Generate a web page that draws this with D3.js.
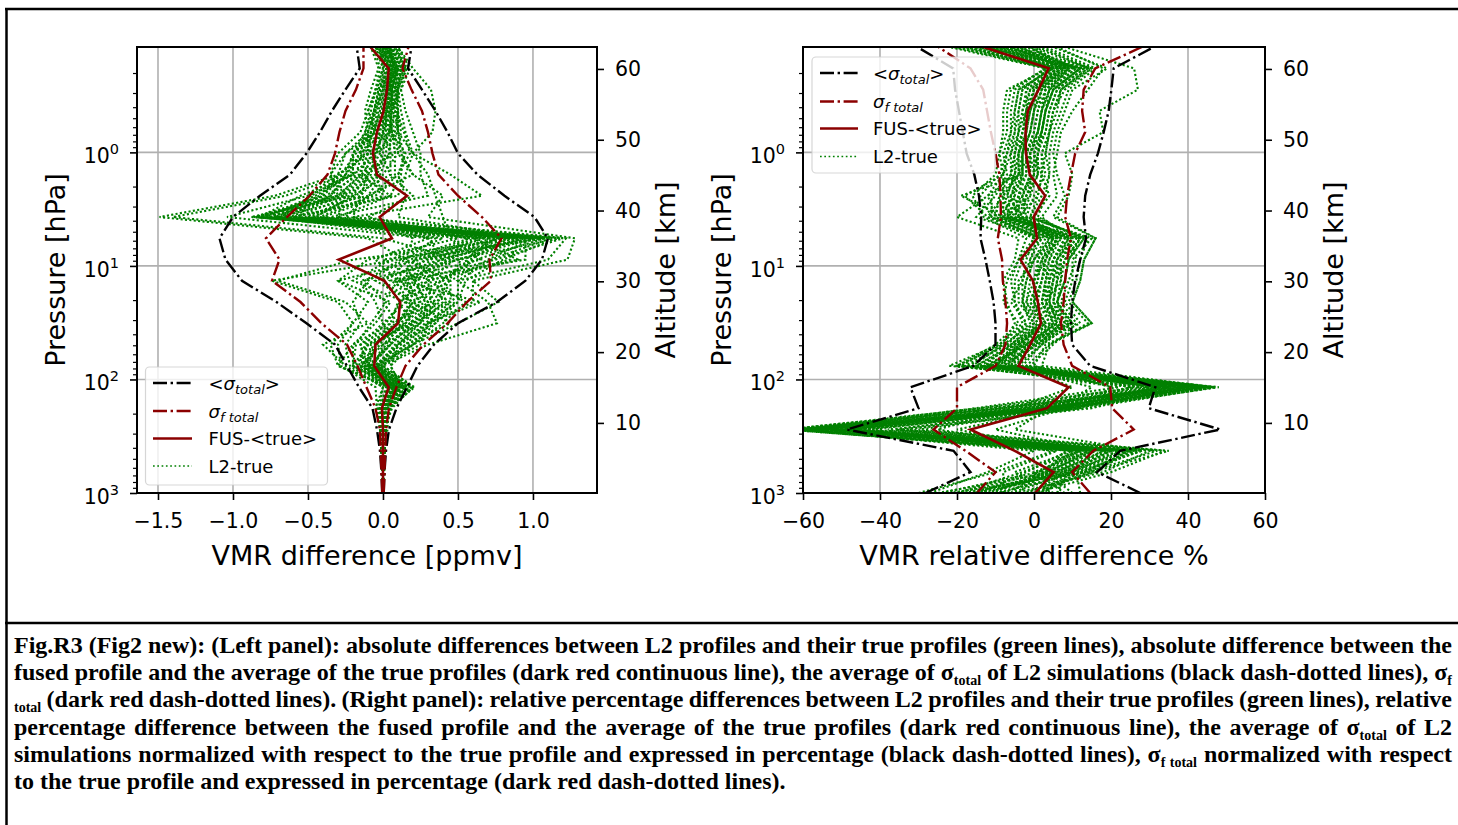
<!DOCTYPE html>
<html>
<head>
<meta charset="utf-8">
<script src="https://cdn.jsdelivr.net/npm/d3@7"></script>
<style>
  body { margin: 0; background: #fff; }
  svg { display: block; }
</style>
</head>
<body>
<svg id="fig" width="1458" height="825"></svg>
<script>
// ---------------------------------------------------------------------------
// Data: retrieval levels (ordered from the ground upward, 0 .. 63 km, 3 km step)
// ---------------------------------------------------------------------------
const levelPressure = [1000, 655, 425, 276, 179, 117, 75.9, 49.3, 32.0, 20.8, 13.5,
                       8.80, 5.71, 3.71, 2.41, 1.57, 1.02, 0.663, 0.431, 0.280, 0.182, 0.118];

const altitudeTicks = [10, 20, 30, 40, 50, 60];
const pressureMajorTicks = [1, 10, 100, 1000];
const pressureMinorTicks = [0.2, 0.3, 0.4, 0.5, 0.6, 0.7, 0.8, 0.9,
                            2, 3, 4, 5, 6, 7, 8, 9,
                            20, 30, 40, 50, 60, 70, 80, 90,
                            200, 300, 400, 500, 600, 700, 800, 900];
const absTicks = [-1.5, -1.0, -0.5, 0.0, 0.5, 1.0];
const relTicks = [-60, -40, -20, 0, 20, 40, 60];

// Left panel: absolute differences [ppmv]
const absSigmaTotalLow  = [-0.005, -0.01, -0.02, -0.04, -0.07, -0.16, -0.24, -0.32, -0.51, -0.71, -0.94,
                           -1.05, -1.09, -1.00, -0.82, -0.62, -0.51, -0.42, -0.34, -0.25, -0.155, -0.175];
const absSigmaTotalHigh = [0.005, 0.01, 0.02, 0.04, 0.09, 0.16, 0.23, 0.34, 0.50, 0.76, 0.95,
                           1.06, 1.10, 1.01, 0.81, 0.63, 0.50, 0.43, 0.35, 0.26, 0.167, 0.19];
const absSigmaFusLow    = [-0.005, -0.01, -0.015, -0.02, -0.05, -0.11, -0.17, -0.24, -0.41, -0.55, -0.74,
                           -0.69, -0.78, -0.64, -0.49, -0.37, -0.32, -0.29, -0.25, -0.18, -0.13, -0.13];
const absSigmaFusHigh   = [0.005, 0.01, 0.015, 0.02, 0.04, 0.09, 0.15, 0.27, 0.43, 0.56, 0.72,
                           0.71, 0.79, 0.66, 0.50, 0.37, 0.33, 0.30, 0.26, 0.19, 0.13, 0.17];
const absFusMinusTrue   = [0, 0, 0, 0, -0.007, 0.038, -0.058, -0.05, 0.10, 0.115, 0.01,
                           -0.295, 0.06, -0.022, 0.16, -0.04, -0.067, -0.04, 0.004, 0.027, 0.038, -0.084];
const absL2MinusTrue = [
  [0, 0, 0.01, 0.02, 0.03, 0.12, -0.05, 0.1, 0.3, 0.45, 0.2, 0.15, -0.1, -1.49, -0.72, -0.3, -0.1, 0.05, 0.08, 0.05, 0.1, 0.02],
  [0, 0, -0.01, 0.01, 0.05, 0.18, -0.1, 0.05, 0.2, 0.35, 0.1, 0.5, 0.0, -1.4, -0.65, -0.25, -0.15, 0.0, 0.05, 0.02, 0.08, -0.02],
  [0, 0.01, 0.0, -0.02, 0.02, 0.1, -0.2, -0.1, 0.1, 0.2, -0.05, 0.4, 0.3, -1.04, -0.5, -0.2, -0.05, 0.1, 0.1, 0.05, 0.05, 0.0],
  [0, 0, 0.01, 0.02, 0.04, 0.15, -0.05, 0.2, 0.5, 0.77, 0.6, 1.23, 1.28, 0.3, 0.4, 0.2, 0.1, 0.12, 0.1, 0.08, 0.12, 0.05],
  [0, 0, 0.0, 0.01, 0.06, 0.2, 0.0, 0.3, 0.76, 0.7, 0.5, 1.1, 1.22, -0.2, 0.66, 0.45, 0.2, 0.33, 0.35, 0.32, 0.2, 0.1],
  [0, 0, -0.01, -0.02, -0.03, 0.05, -0.3, -0.35, -0.2, -0.3, -0.74, 0.1, 0.8, -0.85, -0.3, -0.35, -0.3, -0.15, -0.1, -0.05, 0.0, -0.05],
  [0, 0, 0, -0.01, -0.05, 0.0, -0.25, -0.4, -0.1, -0.25, -0.7, -0.2, 0.9, -0.8, -0.4, -0.3, -0.25, -0.1, -0.12, -0.08, -0.03, -0.08],
  [0, 0, 0, 0.01, 0.0, 0.1, -0.1, -0.05, 0.15, 0.3, 0.2, 0.35, 0.95, -0.88, -0.2, -0.1, 0.05, 0.0, 0.03, 0.05, 0.08, 0.03],
  [0, 0, 0.01, 0.0, 0.02, 0.05, -0.15, 0.0, 0.25, 0.4, 0.35, 0.2, 1.05, -0.8, -0.45, -0.2, -0.2, -0.05, -0.03, 0.0, 0.05, -0.03],
  [0, 0, 0, 0.02, 0.03, 0.08, -0.2, -0.2, 0.05, 0.1, 0.4, 0.6, 0.7, -0.7, -0.1, 0.0, 0.1, 0.08, 0.1, 0.1, 0.15, 0.08],
  [0, 0, -0.01, -0.01, -0.02, 0.02, -0.05, 0.1, 0.35, 0.5, 0.55, 0.8, 1.15, -0.75, -0.3, -0.15, -0.1, -0.08, 0.0, 0.03, 0.06, 0.05],
  [0, 0, 0, 0.0, 0.01, 0.12, 0.05, 0.2, 0.4, 0.55, 0.3, 0.9, 0.6, -0.6, 0.1, 0.15, 0.2, 0.15, 0.12, 0.1, 0.12, 0.06],
  [0, 0, 0, -0.02, -0.04, -0.05, -0.28, -0.3, -0.2, -0.1, -0.3, -0.1, 0.5, -0.65, -0.35, -0.25, -0.2, -0.12, -0.08, -0.05, -0.02, -0.06],
  [0, 0, 0.01, 0.03, 0.04, 0.21, 0.0, 0.15, 0.45, 0.2, 0.0, 0.3, 0.85, -0.5, -0.05, 0.1, 0.15, 0.05, 0.05, 0.12, 0.18, 0.1],
  [0, 0, -0.01, 0.0, -0.01, 0.08, -0.12, -0.15, 0.0, 0.15, -0.2, 0.05, 0.4, -0.55, -0.5, -0.3, -0.1, -0.1, -0.05, -0.02, 0.02, -0.04],
  [0, 0, 0, 0.01, 0.02, 0.15, -0.08, 0.05, 0.2, 0.45, 0.45, 0.7, 1.0, -0.4, 0.0, -0.05, 0.0, 0.02, 0.02, 0.08, 0.1, 0.04],
  [0, 0, 0, -0.01, 0.0, 0.03, -0.18, -0.1, 0.1, 0.0, 0.1, -0.05, 0.3, -0.3, -0.25, -0.35, -0.25, -0.05, -0.1, -0.04, 0.0, -0.02],
  [0, 0, 0.01, 0.02, 0.05, 0.17, -0.02, 0.25, 0.3, 0.6, 0.6, 0.55, 0.75, -0.35, 0.3, 0.25, 0.25, 0.2, 0.15, 0.12, 0.15, 0.08],
  [0, 0, 0, 0.0, -0.03, 0.0, -0.22, -0.25, -0.15, -0.2, -0.1, 0.15, 0.2, -0.2, -0.15, -0.1, -0.15, -0.12, -0.06, -0.03, 0.04, 0.0],
  [0, 0, 0.01, 0.01, 0.03, 0.1, -0.06, 0.0, 0.15, 0.25, 0.15, 0.45, 0.55, -0.1, 0.2, 0.05, 0.05, 0.04, 0.06, 0.06, 0.1, 0.02],
  [0, 0, 0, 0.02, 0.01, 0.06, -0.12, -0.05, 0.05, 0.35, 0.25, 0.0, 1.1, -0.7, -0.25, -0.05, -0.05, 0.0, 0.02, 0.04, 0.07, 0.05],
  [0, 0, -0.01, -0.02, 0.0, 0.04, -0.3, -0.2, -0.05, 0.05, -0.3, 0.25, 0.65, -0.82, -0.55, -0.2, -0.2, -0.08, -0.05, 0.0, 0.03, -0.01],
  [0, 0, 0, 0.01, 0.02, 0.13, 0.05, 0.1, 0.25, 0.3, 0.05, 0.65, 0.45, 0.4, 0.35, 0.3, 0.2, 0.1, 0.08, 0.09, 0.14, 0.07],
  [0, 0, 0.01, 0.0, 0.01, 0.09, -0.15, -0.1, 0.2, 0.1, 0.3, 0.85, 0.9, -0.45, -0.2, 0.05, -0.02, -0.03, 0.01, 0.02, 0.09, 0.01],
  [0, 0, 0, -0.01, -0.01, 0.07, -0.08, 0.05, 0.0, -0.05, -0.15, 0.5, 1.0, -0.6, 0.05, -0.15, 0.08, 0.06, 0.04, 0.07, 0.11, 0.03],
  [0, 0, 0, 0.01, 0.03, 0.16, -0.03, 0.2, 0.35, 0.15, 0.2, 0.75, 1.2, -0.25, -0.1, 0.2, 0.12, 0.1, 0.08, 0.04, 0.06, 0.0],
  [0, 0, 0.01, 0.0, 0.0, 0.11, -0.1, -0.15, 0.1, 0.2, 0.45, 0.15, 0.35, -0.75, -0.4, -0.25, -0.12, -0.06, -0.04, -0.01, 0.05, -0.05],
  [0, 0, -0.01, 0.01, 0.04, 0.19, -0.04, 0.15, 0.3, 0.65, 0.1, 0.95, 0.95, 0.1, 0.15, 0.1, 0.18, 0.14, 0.09, 0.1, 0.16, 0.09],
  [0, 0, 0, 0.01, 0.01, 0.09, -0.07, 0.02, 0.12, 0.22, 0.12, 0.28, 0.78, -0.62, -0.28, -0.12, -0.08, -0.02, 0.02, 0.03, 0.07, 0.02],
  [0, 0, 0.01, 0.01, 0.02, 0.14, -0.11, -0.08, 0.18, 0.38, 0.28, 0.42, 0.88, -0.72, -0.35, -0.18, -0.14, -0.06, -0.02, 0.01, 0.06, 0.0],
  [0, 0, 0, 0.0, 0.03, 0.11, -0.04, 0.08, 0.22, 0.42, 0.38, 0.62, 1.08, -0.52, -0.15, -0.02, 0.04, 0.06, 0.05, 0.06, 0.09, 0.04],
  [0, 0, -0.01, -0.01, -0.02, 0.04, -0.16, -0.12, 0.02, 0.12, 0.0, 0.18, 0.62, -0.78, -0.42, -0.28, -0.18, -0.1, -0.06, -0.03, 0.01, -0.03],
  [0, 0, 0, 0.01, 0.02, 0.13, -0.06, 0.12, 0.28, 0.5, 0.5, 0.72, 1.12, -0.42, -0.08, 0.08, 0.08, 0.07, 0.07, 0.08, 0.13, 0.06],
  [0, 0, 0.01, 0.0, 0.0, 0.06, -0.13, -0.02, 0.08, 0.28, 0.22, 0.38, 0.98, -0.84, -0.3, -0.14, -0.04, 0.0, 0.0, 0.02, 0.05, -0.01],
  [0, 0, 0, 0.02, 0.03, 0.16, -0.01, 0.18, 0.32, 0.48, 0.4, 0.58, 0.82, -0.3, 0.05, 0.12, 0.14, 0.1, 0.1, 0.09, 0.13, 0.05],
  [0, 0, 0, -0.01, -0.02, 0.03, -0.2, -0.18, -0.08, 0.02, -0.12, 0.12, 0.58, -0.68, -0.48, -0.22, -0.16, -0.08, -0.06, -0.02, 0.03, -0.02],
  [0, 0, 0.01, 0.01, 0.01, 0.1, -0.09, 0.04, 0.18, 0.32, 0.3, 0.48, 1.18, -0.58, -0.22, -0.08, -0.06, 0.01, 0.03, 0.04, 0.08, 0.03],
  [0, 0, 0, 0.0, 0.02, 0.08, -0.14, -0.06, 0.14, 0.24, 0.16, 0.32, 0.72, -0.46, -0.18, -0.04, 0.02, 0.03, 0.04, 0.05, 0.09, 0.01],
  [0, 0, -0.01, 0.01, 0.03, 0.12, -0.03, 0.1, 0.24, 0.36, 0.44, 0.52, 0.92, -0.76, -0.26, -0.1, -0.02, 0.04, 0.06, 0.06, 0.1, 0.04],
  [0, 0, 0, 0.01, 0.02, 0.07, -0.1, -0.04, 0.1, 0.18, 0.08, 0.22, 0.68, -0.86, -0.38, -0.16, -0.1, -0.04, -0.01, 0.02, 0.06, 0.01]
];

// Right panel: relative differences [%]
const relSigmaTotalLow  = [-28.2, -16.5, -20.9, -48.6, -30.0, -32.1, -15.7, -10.0, -10.0, -10.5, -11.5,
                           -12.6, -13.9, -13.7, -14.3, -15.5, -17.5, -18.5, -19.5, -20.5, -21.0, -30.3];
const relSigmaTotalHigh = [27.6, 16.4, 22.4, 48.4, 29.8, 31.5, 14.6, 9.9, 9.6, 9.9, 10.7,
                           12.0, 13.5, 12.9, 13.3, 14.6, 16.6, 18.1, 19.4, 20.1, 20.7, 31.1];
const relSigmaFusLow    = [-14.8, -10.0, -17.8, -26.1, -20.0, -20.0, -10.0, -7.4, -7.0, -7.4, -8.1,
                           -8.3, -9.4, -8.6, -8.7, -9.0, -10.0, -11.2, -12.2, -13.2, -16.5, -24.8];
const relSigmaFusHigh   = [14.6, 9.9, 15.4, 25.9, 20.3, 19.8, 9.9, 7.7, 7.0, 7.7, 8.1,
                           8.6, 9.6, 8.1, 8.6, 9.6, 10.7, 13.3, 12.5, 12.9, 15.9, 28.0];
const relFusMinusTrue   = [0.3, 5.1, -5.0, -16.5, 3.4, 9.0, -4.0, -1.0, 1.8, 1.0, -0.3,
                           -3.5, 0.8, -0.1, 2.9, -1.1, -2.1, -2.2, -1.6, 1.2, 3.8, -13.1];
const relL2MinusTrue = [
  [-25, 5, 20, -60, 0, 40, -15, -5, 5, 2, 3, 5, 8, -10, -12, -5, -4, -3, -2, 0, 8, -15],
  [-10, 12, 28, -50, 5, 45, -10, -3, 10, 5, 6, 8, 12, -5, -3, 0, 0, 2, 3, 5, 12, -8],
  [5, -5, 10, -65, -10, 30, -20, -8, 0, -3, -2, 0, 3, -12, -18, -8, -6, -5, -4, -3, 4, -20],
  [-18, 8, 25, -45, 10, 48, -5, 0, 12, 8, 10, 10, 15, -2, 0, 3, 2, 4, 5, 8, 15, -5],
  [0, 15, 35, -30, 12, 20, 0, 3, 15, 10, 12, 13, 16, 5, 8, 6, 5, 6, 8, 10, 19, 5],
  [-30, -10, 5, -62, -8, 35, -22, -9, -3, -5, -5, -3, 2, -15, -10, -7, -8, -6, -6, -5, 3, -22],
  [-15, 10, 22, -55, 3, 42, -12, -2, 6, 4, 5, 6, 10, -8, -6, -2, -2, 0, 1, 3, 10, -10],
  [8, 0, 15, -10, 8, 25, -8, -6, 2, 0, 0, 3, 5, -4, -4, -3, -3, -1, 0, 2, 7, -3],
  [-5, 18, 30, -35, 15, 38, -3, 2, 8, 6, 8, 9, 13, 0, 4, 2, 3, 4, 6, 7, 14, 2],
  [-20, -3, 12, -58, -12, 44, -18, -7, -2, -6, -3, -2, 0, -11, -14, -9, -7, -6, -5, -4, 5, -18],
  [10, 3, 8, -20, 6, 15, -6, -4, 4, 1, 2, 4, 6, -6, -8, -4, -1, 1, 2, 4, 9, 0],
  [-12, 7, 18, -48, 0, 33, -14, -5, 3, -1, 1, 1, 4, -9, -5, -6, -5, -3, -1, 1, 6, -12],
  [2, 12, 26, -52, 9, 46, -2, 4, 14, 9, 11, 12, 14, -1, 2, 4, 4, 5, 7, 9, 16, 3],
  [-8, -8, 6, -64, -14, 28, -20, -10, -4, -8, -7, -4, -2, -13, -16, -10, -9, -7, -7, -6, 3, -16],
  [-22, 14, 32, -42, 4, 36, -9, 1, 9, 3, 7, 7, 11, -7, -2, 1, 1, 3, 4, 6, 13, -6],
  [4, 2, 10, -25, -5, 10, -4, -2, 6, 2, 4, 2, 7, -3, -1, -1, -2, 0, 1, 2, 8, -1],
  [-16, 6, 16, -56, 2, 41, -11, -3, 1, -2, -1, -1, 1, -10, -9, -4, -4, -2, -3, -1, 6, -13],
  [-3, 16, 24, -38, 11, 30, -1, 5, 11, 7, 9, 11, 9, 2, 6, 5, 6, 7, 10, 14, 18, 6],
  [-27, -12, 0, -60, -15, 22, -16, -8, -5, -7, -8, -5, -4, -20, -12, -8, -9, -8, -8, -7, 4, -21],
  [6, 9, 20, -46, 7, 43, -7, -1, 7, 5, 6, 6, 10, -4, 1, 2, 0, 2, 3, 4, 11, -2],
  [-12, 4, 14, -53, -3, 39, -13, -6, 0, -4, -4, 0, 5, -9, -7, -5, -5, -4, -2, -2, 5, -14],
  [0, 20, 34, -33, 13, 47, 2, 4, 15, 10, 12, 13, 16, 6, 9, 10, 8, 18, 17, 27, 26, 8],
  [-6, 1, 12, -62, -6, 37, -17, -7, -1, -3, -3, -1, 2, -11, -11, -6, -6, -4, -4, -3, 4, -17],
  [12, 11, 28, -5, 4, 34, -6, 0, 5, 3, 3, 5, 8, -5, -4, 0, -1, 1, 2, 3, 9, -4],
  [-20, 3, 16, -50, 1, 46, -10, -4, 2, 1, 0, 2, 6, -8, -19, -3, -3, -2, -1, 0, 7, -11],
  [-2, 13, 25, -48, 10, 40, -4, 2, 10, 6, 8, 9, 12, 1, 3, 4, 3, 4, 5, 7, 15, 1],
  [-14, -2, 9, -59, -9, 26, -19, -9, -2, -5, -6, -4, 0, -12, -8, -8, -7, -5, -5, -4, 5, -19],
  [3, 7, 22, -36, 7, 32, -8, 1, 7, 3, 4, 5, 9, -3, -2, 1, 1, 2, 3, 5, 12, -7],
  [-8, 6, 18, -54, 3, 38, -9, -3, 4, 2, 3, 4, 7, -6, -5, -3, -3, -1, 0, 2, 9, -9],
  [-14, 9, 20, -57, 6, 42, -11, -2, 6, 4, 4, 6, 9, -7, -4, -2, -2, 1, 2, 4, 11, -11],
  [2, 4, 14, -49, -2, 35, -7, -4, 3, 0, 2, 3, 6, -4, -6, -4, -3, -2, -1, 1, 8, -6],
  [-18, 11, 24, -61, 8, 44, -13, -1, 8, 5, 6, 7, 11, -8, -3, -1, -1, 2, 3, 5, 12, -13],
  [-4, 2, 12, -52, -4, 31, -5, -5, 2, -1, 1, 2, 5, -3, -7, -5, -4, -3, -2, 0, 7, -4],
  [-10, 13, 26, -63, 9, 45, -10, 0, 9, 6, 7, 8, 12, -6, -1, 1, 0, 3, 4, 6, 13, -9],
  [6, 8, 19, -44, 5, 40, -6, -2, 5, 3, 5, 5, 9, -2, -3, -1, -1, 1, 2, 3, 10, -1],
  [-24, 1, 11, -58, -6, 36, -15, -6, 1, -3, -2, 0, 4, -10, -9, -6, -5, -4, -3, -2, 6, -16],
  [-6, 10, 23, -56, 6, 43, -8, 1, 7, 4, 5, 7, 10, -4, -2, 0, 1, 2, 3, 5, 12, -7],
  [-16, 5, 15, -60, 0, 39, -12, -4, 3, 0, 2, 3, 6, -7, -6, -3, -3, -1, 0, 1, 9, -12],
  [1, 14, 27, -47, 10, 47, -5, 2, 10, 6, 8, 9, 13, -1, 1, 2, 2, 4, 5, 7, 14, 0],
  [-11, 3, 13, -51, -1, 33, -10, -5, 2, -2, 0, 1, 5, -8, -8, -4, -4, -2, -2, -1, 7, -10]
];

const captionLines = [
  "Fig.R3 (Fig2 new): (Left panel): absolute differences between L2 profiles and their true profiles (green lines), absolute difference between the",
  "fused profile and the average of the true profiles (dark red continuous line), the average of σ_{total} of L2 simulations (black dash-dotted lines), σ_{f}",
  "_{total} (dark red dash-dotted lines). (Right panel): relative percentage differences between L2 profiles and their true profiles (green lines), relative",
  "percentage difference between the fused profile and the average of the true profiles (dark red continuous line), the average of σ_{total} of L2",
  "simulations normalized with respect to the true profile and expressed in percentage (black dash-dotted lines), σ_{f total} normalized with respect",
  "to the true profile and expressed in percentage (dark red dash-dotted lines)."
];

// ---------------------------------------------------------------------------
// Drawing
// ---------------------------------------------------------------------------
const FONT = "'DejaVu Sans', sans-serif";
const DARKRED = "#8b0000";
const GREEN = "#008000";
const TOP = 47, BOTTOM = 493;

const fig = d3.select("#fig");
fig.append("rect").attr("width", 1458).attr("height", 825).attr("fill", "#fff");

// page frame
fig.append("line").attr("x1", 5).attr("x2", 1458).attr("y1", 9).attr("y2", 9)
  .attr("stroke", "#000").attr("stroke-width", 2.5);
fig.append("line").attr("x1", 6.5).attr("x2", 6.5).attr("y1", 8).attr("y2", 825)
  .attr("stroke", "#000").attr("stroke-width", 2.5);
fig.append("line").attr("x1", 5).attr("x2", 1458).attr("y1", 623).attr("y2", 623)
  .attr("stroke", "#000").attr("stroke-width", 2.5);

function styleAxis(sel) {
  sel.attr("font-family", FONT).attr("font-size", 20.5);
  sel.select(".domain").remove();
  sel.selectAll(".tick line").attr("stroke", "#000").attr("stroke-width", 1.6);
  sel.selectAll(".tick text").attr("fill", "#000");
}

function addLegend(g, box, rows) {
  g.append("rect")
    .attr("x", box.x).attr("y", box.y).attr("width", box.w).attr("height", box.h)
    .attr("rx", 4).attr("fill", "#fff").attr("fill-opacity", 0.8)
    .attr("stroke", "#cccccc").attr("stroke-opacity", 0.8).attr("stroke-width", 1.2);
  rows.forEach((r, i) => {
    const yy = box.rowY[i];
    g.append("line").attr("x1", box.hx0).attr("x2", box.hx1).attr("y1", yy).attr("y2", yy)
      .attr("stroke", r.color).attr("stroke-width", r.width)
      .attr("stroke-dasharray", r.dash || null);
    const t = g.append("text").attr("x", box.tx).attr("y", yy + 6.5)
      .attr("font-family", FONT).attr("font-size", 18).attr("fill", "#000");
    r.label(t);
  });
}

function labelSigmaTotal(t) {
  t.append("tspan").text("<");
  t.append("tspan").attr("font-style", "italic").text("σ");
  t.append("tspan").attr("font-style", "italic").attr("font-size", 13).attr("dy", 4).text("total");
  t.append("tspan").attr("dy", -4).text(">");
}
function labelSigmaFus(t) {
  t.append("tspan").attr("font-style", "italic").text("σ");
  t.append("tspan").attr("font-style", "italic").attr("font-size", 13).attr("dy", 4).text("f total");
}

function drawPanel(p) {
  const g = fig.append("g");
  const x = d3.scaleLinear().domain(p.xDomain).range([p.x0, p.x1]);
  const y = d3.scaleLog().domain([1000, 0.118]).range([BOTTOM, TOP]);
  const yAlt = d3.scaleLinear().domain([0.1, 63.1]).range([BOTTOM, TOP]);

  const clipId = "clip-" + p.id;
  g.append("clipPath").attr("id", clipId).append("rect")
    .attr("x", p.x0).attr("y", TOP).attr("width", p.x1 - p.x0).attr("height", BOTTOM - TOP);

  // grid
  const grid = g.append("g").attr("stroke", "#b0b0b0").attr("stroke-width", 1.6);
  grid.selectAll("line.v").data(p.xTicks).join("line").attr("class", "v")
    .attr("x1", d => x(d)).attr("x2", d => x(d)).attr("y1", TOP).attr("y2", BOTTOM);
  grid.selectAll("line.h").data(pressureMajorTicks.filter(d => d < 1000)).join("line").attr("class", "h")
    .attr("x1", p.x0).attr("x2", p.x1).attr("y1", d => y(d)).attr("y2", d => y(d));

  const plot = g.append("g").attr("clip-path", `url(#${clipId})`);
  const line = d3.line().x(d => x(d[0])).y(d => y(d[1]));
  const pts = arr => arr.map((v, i) => [v, levelPressure[i]]);

  // individual L2 - true profiles
  plot.selectAll("path.l2").data(p.l2).join("path").attr("class", "l2")
    .attr("d", d => line(pts(d))).attr("fill", "none")
    .attr("stroke", GREEN).attr("stroke-width", 2.1).attr("stroke-dasharray", "2.1,2.3");

  // sigma envelopes
  const dashDot = "14,3.6,2.4,3.6";
  [p.sigTotLow, p.sigTotHigh].forEach(arr => {
    plot.append("path").attr("d", line(pts(arr))).attr("fill", "none")
      .attr("stroke", "#000").attr("stroke-width", 2.4).attr("stroke-dasharray", dashDot);
  });
  [p.sigFusLow, p.sigFusHigh].forEach(arr => {
    plot.append("path").attr("d", line(pts(arr))).attr("fill", "none")
      .attr("stroke", DARKRED).attr("stroke-width", 2.4).attr("stroke-dasharray", dashDot);
  });
  // fused minus mean truth
  plot.append("path").attr("d", line(pts(p.fus))).attr("fill", "none")
    .attr("stroke", DARKRED).attr("stroke-width", 2.6);

  // legend
  addLegend(g, p.legend, [
    { color: "#000", width: 2.4, dash: dashDot, label: labelSigmaTotal },
    { color: DARKRED, width: 2.4, dash: dashDot, label: labelSigmaFus },
    { color: DARKRED, width: 2.6, label: t => t.text("FUS-<true>") },
    { color: GREEN, width: 1.7, dash: "1.7,2.6", label: t => t.text("L2-true") }
  ]);

  // frame
  g.append("rect").attr("x", p.x0).attr("y", TOP).attr("width", p.x1 - p.x0).attr("height", BOTTOM - TOP)
    .attr("fill", "none").attr("stroke", "#000").attr("stroke-width", 2);

  // x axis
  const xAxis = g.append("g").attr("transform", `translate(0,${BOTTOM})`)
    .call(d3.axisBottom(x).tickValues(p.xTicks).tickSize(7).tickSizeOuter(0).tickPadding(13)
      .tickFormat(p.xFormat));
  styleAxis(xAxis);

  // pressure axis (log): minor then major ticks
  const yMinor = g.append("g").attr("transform", `translate(${p.x0},0)`)
    .call(d3.axisLeft(y).tickValues(pressureMinorTicks).tickSize(4).tickSizeOuter(0).tickFormat(""));
  styleAxis(yMinor);
  yMinor.selectAll(".tick line").attr("stroke-width", 1.2);
  const yMajor = g.append("g").attr("transform", `translate(${p.x0},0)`)
    .call(d3.axisLeft(y).tickValues(pressureMajorTicks).tickSize(7).tickSizeOuter(0).tickPadding(11)
      .tickFormat(() => ""));
  styleAxis(yMajor);
  yMajor.selectAll(".tick text").attr("dy", "0.5em").each(function (d) {
    const t = d3.select(this);
    t.append("tspan").text("10");
    t.append("tspan").attr("font-size", 14.5).attr("dy", -9).text(Math.round(Math.log10(d)));
  });

  // altitude axis
  const yRight = g.append("g").attr("transform", `translate(${p.x1},0)`)
    .call(d3.axisRight(yAlt).tickValues(altitudeTicks).tickSize(7).tickSizeOuter(0).tickPadding(11)
      .tickFormat(d3.format("d")));
  styleAxis(yRight);

  // axis titles
  const cy = (TOP + BOTTOM) / 2;
  g.append("text").attr("transform", `translate(${p.x0 - 82},${cy}) rotate(-90)`)
    .attr("text-anchor", "middle").attr("dominant-baseline", "central")
    .attr("font-family", FONT).attr("font-size", 27).text("Pressure [hPa]");
  g.append("text").attr("transform", `translate(${p.x1 + 68},${cy}) rotate(-90)`)
    .attr("text-anchor", "middle").attr("dominant-baseline", "central")
    .attr("font-family", FONT).attr("font-size", 27).text("Altitude [km]");
  g.append("text").attr("x", (p.x0 + p.x1) / 2).attr("y", 555)
    .attr("text-anchor", "middle").attr("dominant-baseline", "central")
    .attr("font-family", FONT).attr("font-size", 27).text(p.xLabel);
}

const minusFmt = f => d => f(d).replace("-", "−");

drawPanel({
  id: "abs", x0: 137, x1: 597, xDomain: [-1.64, 1.427], xTicks: absTicks,
  xFormat: minusFmt(d3.format(".1f")), xLabel: "VMR difference [ppmv]",
  sigTotLow: absSigmaTotalLow, sigTotHigh: absSigmaTotalHigh,
  sigFusLow: absSigmaFusLow, sigFusHigh: absSigmaFusHigh,
  fus: absFusMinusTrue, l2: absL2MinusTrue,
  legend: { x: 145.5, y: 367, w: 182, h: 118, rowY: [383, 411, 438.5, 466], hx0: 153, hx1: 192, tx: 208.5 }
});

drawPanel({
  id: "rel", x0: 803, x1: 1265, xDomain: [-60, 60], xTicks: relTicks,
  xFormat: minusFmt(d3.format("d")), xLabel: "VMR relative difference %",
  sigTotLow: relSigmaTotalLow, sigTotHigh: relSigmaTotalHigh,
  sigFusLow: relSigmaFusLow, sigFusHigh: relSigmaFusHigh,
  fus: relFusMinusTrue, l2: relL2MinusTrue,
  legend: { x: 812, y: 57, w: 183, h: 116, rowY: [73, 101.5, 128.5, 156.5], hx0: 820, hx1: 858, tx: 873 }
});

// ---------------------------------------------------------------------------
// Caption (justified lines; "_{...}" marks subscripts)
// ---------------------------------------------------------------------------
const CAP_X = 14, CAP_W = 1438;
captionLines.forEach((src, i) => {
  const t = fig.append("text").attr("x", CAP_X).attr("y", 653 + i * 27.2)
    .attr("font-family", "'Liberation Serif', 'Times New Roman', serif")
    .attr("font-weight", "bold").attr("font-size", 24).attr("fill", "#000")
    .attr("xml:space", "preserve");
  const parts = src.split(/(_\{[^}]*\})/).filter(s => s.length);
  let shifted = false;
  parts.forEach(s => {
    if (s.startsWith("_{")) {
      t.append("tspan").attr("font-size", 14).attr("dy", shifted ? 0 : 5).text(s.slice(2, -1));
      shifted = true;
    } else {
      t.append("tspan").attr("dy", shifted ? -5 : 0).text(s);
      shifted = false;
    }
  });
  if (i < captionLines.length - 1) {
    const plain = src.replace(/_\{([^}]*)\}/g, "$1");
    const spaces = (plain.match(/ /g) || []).length;
    const len = t.node().getComputedTextLength();
    t.style("word-spacing", ((CAP_W - len) / spaces) + "px");
  }
});
</script>
</body>
</html>
